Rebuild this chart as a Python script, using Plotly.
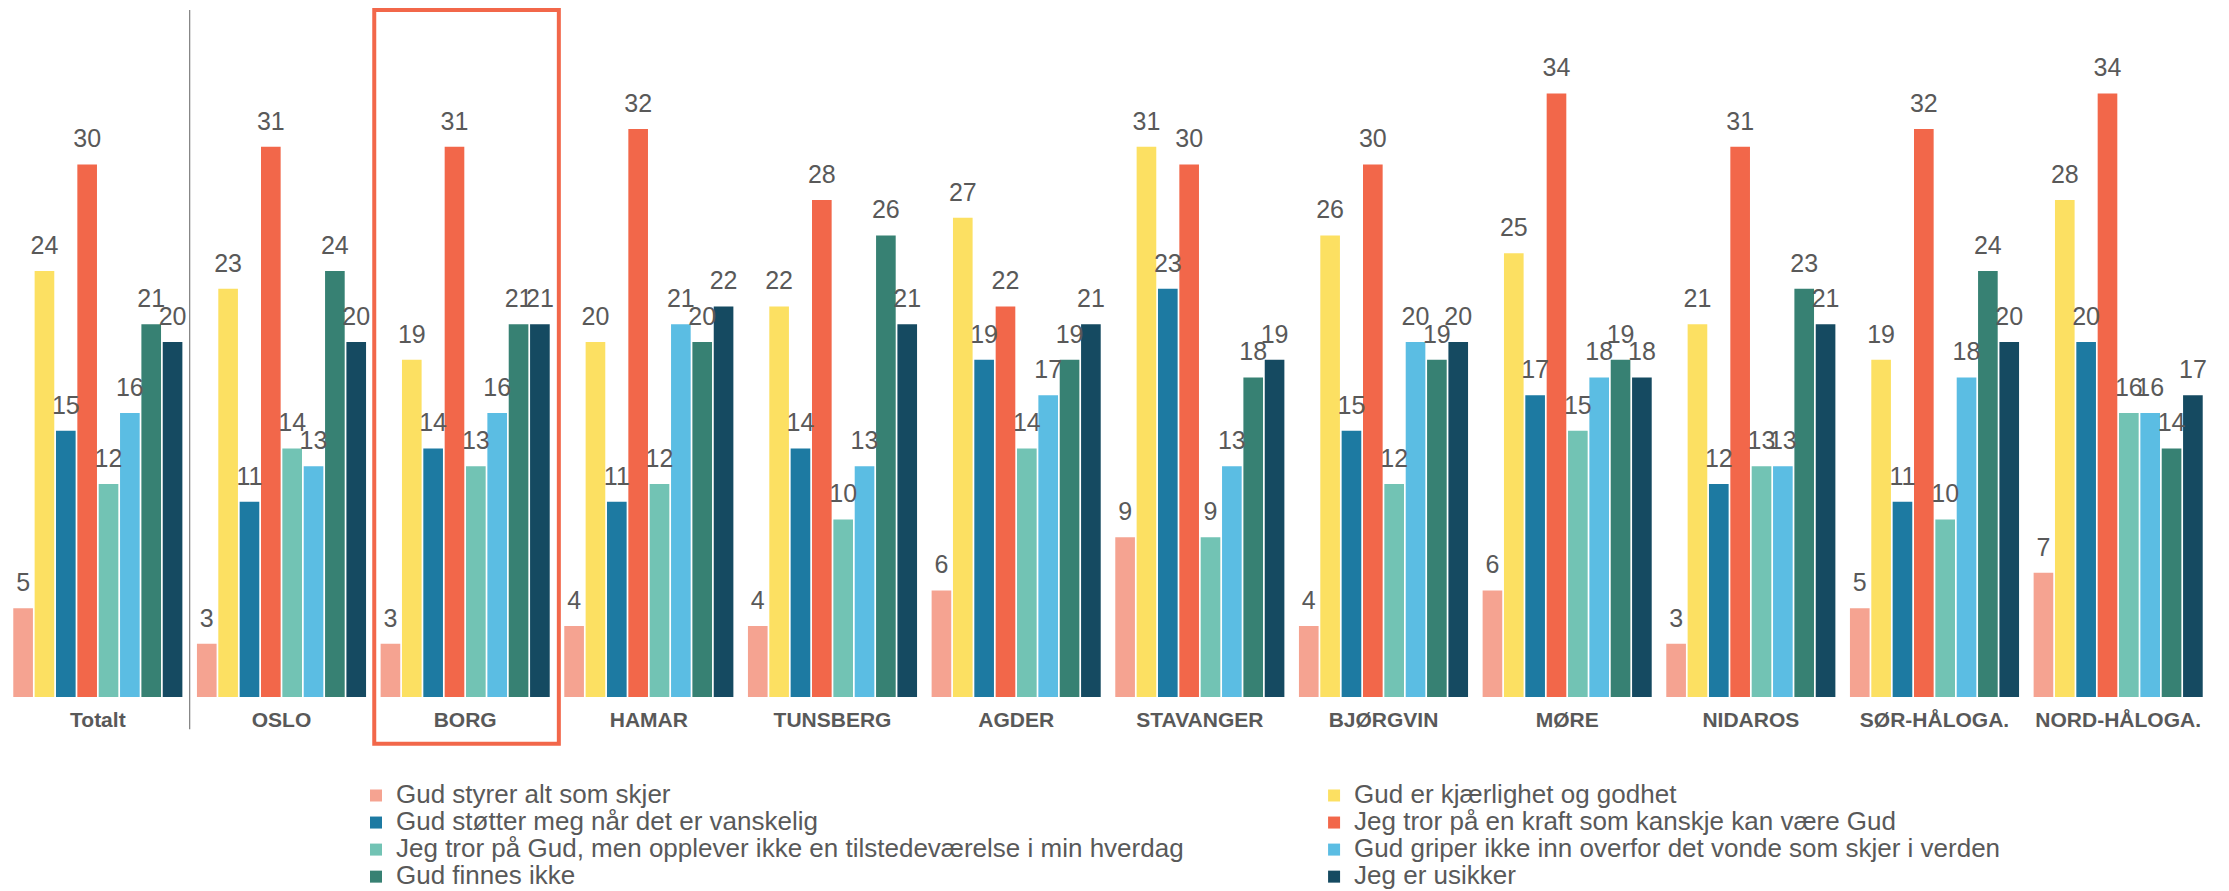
import plotly.graph_objects as go

categories = ["Totalt", "OSLO", "BORG", "HAMAR", "TUNSBERG", "AGDER", "STAVANGER",
              "BJØRGVIN", "MØRE", "NIDAROS", "SØR-HÅLOGA.", "NORD-HÅLOGA."]

series_names = [
    "Gud styrer alt som skjer",
    "Gud er kjærlighet og godhet",
    "Gud støtter meg når det er vanskelig",
    "Jeg tror på en kraft som kanskje kan være Gud",
    "Jeg tror på Gud, men opplever ikke en tilstedeværelse i min hverdag",
    "Gud griper ikke inn overfor det vonde som skjer i verden",
    "Gud finnes ikke",
    "Jeg er usikker",
]

styrer = [5, 3, 3, 4, 4, 6, 9, 4, 6, 3, 5, 7]
kjaerlighet = [24, 23, 19, 20, 22, 27, 31, 26, 25, 21, 19, 28]
stotter = [15, 11, 14, 11, 14, 19, 23, 15, 17, 12, 11, 20]
kraft = [30, 31, 31, 32, 28, 22, 30, 30, 34, 31, 32, 34]
tilstede = [12, 14, 13, 12, 10, 14, 9, 12, 15, 13, 10, 16]
griper = [16, 13, 16, 21, 13, 17, 13, 20, 18, 13, 18, 16]
finnes_ikke = [21, 24, 21, 20, 26, 19, 18, 19, 19, 23, 24, 14]
usikker = [20, 20, 21, 22, 21, 21, 19, 20, 18, 21, 20, 17]

series_values = [styrer, kjaerlighet, stotter, kraft, tilstede, griper, finnes_ikke, usikker]

colors = ["#F5A391", "#FCE062", "#1D7AA2", "#F2674A",
          "#72C3B4", "#5BBDE3", "#378173", "#154A61"]

FONT = "Liberation Sans, Arial, sans-serif"
TXT = "#595959"
BARGAP = 0.07

fig = go.Figure()

for i, (name, vals, col) in enumerate(zip(series_names, series_values, colors)):
    fig.add_trace(go.Bar(
        x=categories, y=vals, name=f"<span style='font-size:26px'>{name}</span>",
        marker=dict(color=col, line=dict(width=0)),
        legend="legend" if i % 2 == 0 else "legend2",
        hoverinfo="skip",
    ))

for name, vals, col in zip(series_names, series_values, colors):
    fig.add_trace(go.Scatter(
        x=categories, y=vals, mode="markers+text",
        text=[str(v) for v in vals], textposition="top center",
        textfont=dict(family=FONT, size=25, color=TXT),
        marker=dict(size=15.6, color="rgba(0,0,0,0)"),
        showlegend=False, hoverinfo="skip", cliponaxis=False,
    ))

# separator line between Totalt and the dioceses
fig.add_shape(type="line", xref="x", yref="paper", x0=0.5, x1=0.5, y0=-0.047, y1=1.0,
              line=dict(color="#7F7F7F", width=1.2))
# highlight box around BORG
fig.add_shape(type="rect", xref="x", yref="paper", x0=1.505, x1=2.51, y0=-0.068, y1=1.0,
              line=dict(color="#F2674A", width=4), fillcolor="rgba(0,0,0,0)")

legend_common = dict(orientation="v", yanchor="top", y=-0.1164, xanchor="left",
                     font=dict(family=FONT, size=18.5, color=TXT),
                     bgcolor="rgba(0,0,0,0)", traceorder="normal")

fig.update_layout(
    width=2229, height=891,
    margin=dict(l=6, r=19, t=10, b=194, autoexpand=False),
    paper_bgcolor="white", plot_bgcolor="white",
    barmode="group", bargap=BARGAP, bargroupgap=0.08,
    scattermode="group", scattergap=BARGAP,
    font=dict(family=FONT, color=TXT),
    xaxis=dict(type="category", showgrid=False, showline=False, zeroline=False, ticks="",
               tickfont=dict(family=FONT, size=21, color=TXT, weight="bold"),
               ticklabelstandoff=8, automargin=False),
    yaxis=dict(visible=False, range=[0, 38.7], showgrid=False, zeroline=False),
    legend=dict(x=0.1588, **legend_common),
    legend2=dict(x=0.5935, **legend_common),
    showlegend=True,
)

fig.write_html(
    "out.html",
    config={"displayModeBar": False},
    post_script="document.body.style.margin='0px';document.body.style.overflow='hidden';",
)
